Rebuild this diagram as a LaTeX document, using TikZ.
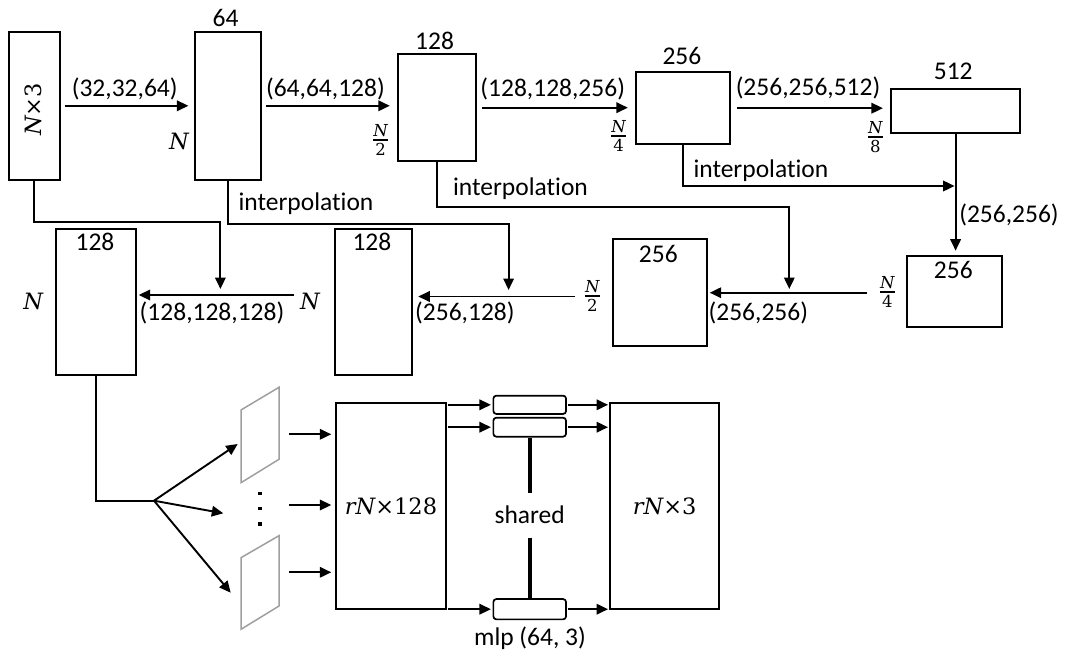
\RequirePackage{fix-cm}
\documentclass[tikz,border=0pt]{standalone}
\usepackage{fontspec}
\setmainfont{Carlito}[Ligatures={NoCommon}]
\newfontfamily\mserif{DejaVu Serif}
\newcommand{\mbig}{\fontsize{22.5}{26}\selectfont\mserif}
\newcommand{\msmall}{\fontsize{16.5}{17}\selectfont\mserif}
\newcommand{\Nv}{{\mbig\itshape N}}
\newcommand{\Nfr}[1]{$\hbox{\msmall\itshape N}\above 2pt\hbox{\msmall #1}$}
\usetikzlibrary{arrows.meta,calc}
\tikzset{
  box/.style={draw, line width=2pt, inner sep=0pt},
  arr/.style={line width=1.9pt, -{Triangle[length=11.5pt,width=10.5pt]}},
  ln/.style={line width=1.9pt},
  txt/.style={inner sep=0pt},
  mlpbox/.style={draw, line width=1.7pt, rounded corners=3pt, inner sep=0pt, minimum width=72.7pt},
  para/.style={draw=gray!75, line width=1.5pt, line join=miter},
  dotm/.style={fill=black, inner sep=0pt, minimum size=3.2pt}
}
\begin{document}
\begin{tikzpicture}[x=1pt,y=-1pt,font=\fontsize{25.5}{30}\selectfont]
\useasboundingbox (0,0) rectangle (1065,655);
% ---------- top row boxes ----------
\node[box, minimum width=50.3pt, minimum height=148.3pt] (A) at (34.4,105.8) {};
\node[txt, rotate=90] (Alab) at (33.6,109.5) {{\mbig\itshape N\upshape ×3}};
\node[box, minimum width=66.4pt, minimum height=148.3pt] (B) at (227.8,105.8) {};
\node[box, minimum width=77.8pt, minimum height=107.3pt] (C) at (436.6,107.7) {};
\node[box, minimum width=94.5pt, minimum height=72.3pt] (D) at (683,108.2) {};
\node[box, minimum width=129.7pt, minimum height=44.3pt] (E) at (955.6,111.2) {};
\node[txt] (Bt) at (225.5,18.3) {64};
\node[txt] (Ct) at (434.6,40.7) {128};
\node[txt] (Dt) at (681.9,56) {256};
\node[txt] (Et) at (953.2,71.7) {512};
\node[txt] (Bn) at (179,141.7) {\Nv};
\node[txt] (Cn) at (380.5,140) {\Nfr{2}};
\node[txt] (Dn) at (618.7,136) {\Nfr{4}};
\node[txt] (En) at (875.4,136.7) {\Nfr{8}};
% top arrows
\draw[arr, shorten <=4pt, shorten >=5.2pt] (A.east) -- (A.east -| B.west);
\draw[arr, shorten <=3.5pt, shorten >=6.9pt] (B.east) -- (B.east -| C.west);
\draw[arr, shorten <=5.5pt, shorten >=6.9pt] (C.east) -- (C.east -| D.west);
\draw[arr, shorten <=5.5pt, shorten >=6.8pt] (D.east) -- (D.east -| E.west);
\node[txt] (l1) at (124.7,89.3) {(32,32,64)};
\node[txt] (l2) at (325.4,89.3) {(64,64,128)};
\node[txt] (l3) at (552.7,88.5) {(128,128,256)};
\node[txt] (l4) at (808,88.3) {(256,256,512)};
% ---------- second row boxes ----------
\node[box, minimum width=80pt, minimum height=145.7pt] (F) at (95.7,302.2) {};
\node[box, minimum width=77.5pt, minimum height=145.7pt] (G) at (373.5,302.2) {};
\node[box, minimum width=93.4pt, minimum height=106.7pt] (H) at (660,292.3) {};
\node[box, minimum width=95.6pt, minimum height=71.6pt] (I) at (954.5,291.5) {};
\node[txt] (Ft) at (95,241.7) {128};
\node[txt] (Gt) at (371.9,242) {128};
\node[txt] (Ht) at (658.3,254) {256};
\node[txt] (It) at (953.3,270) {256};
\node[txt] (Fn) at (33.3,301.7) {\Nv};
\node[txt] (Gn) at (310,301.7) {\Nv};
\node[txt] (Hn) at (592.3,296) {\Nfr{2}};
\node[txt] (In) at (887.3,291.7) {\Nfr{4}};
% row-2 horizontal arrows
\coordinate (fs) at (294.4,295);
\coordinate (gs) at (575,296.5);
\coordinate (hs) at (867.3,292.7);
\draw[arr, shorten >=2pt] (fs) -- (fs -| F.east);
\draw[arr, shorten >=5pt] (gs) -- (gs -| G.east);
\draw[arr, shorten >=2pt] (hs) -- (hs -| H.east);
\node[txt] (fl) at (212,313.3) {(128,128,128)};
\node[txt] (gl) at (464.9,313.3) {(256,128)};
\node[txt] (hl) at (758.3,313.3) {(256,256)};
% skip / interpolation connectors
\coordinate (jA) at (220.4,295);
\coordinate (jB) at (508.6,296.5);
\coordinate (jC) at (789.3,292.7);
\coordinate (jD) at (955.6,186);
\draw[arr, shorten >=6pt] (A.south) -- (A.south |- 0,222) -| (jA);
\draw[arr, shorten >=6.5pt] (B.south) -- (B.south |- 0,224) -| (jB);
\draw[arr, shorten >=3.7pt] (C.south) -- (C.south |- 0,207.3) -| (jC);
\draw[arr, shorten >=1pt] (D.south) -- (D.south |- jD) -- (jD);
\draw[arr, shorten >=4pt] (E.south) -- (E.south |- I.north);
\node[txt] (i1) at (306,204) {interpolation};
\node[txt] (i2) at (520.5,188.3) {interpolation};
\node[txt] (i3) at (760.9,170.7) {interpolation};
\node[txt] (el) at (1009,215) {(256,256)};
% ---------- bottom part ----------
\coordinate (br) at (154,500.7);
\draw[ln] (F.south) -- (F.south |- br) -- (br);
\coordinate (t1) at (237.7,444);
\coordinate (t2) at (223.3,513.3);
\coordinate (t3) at (230.7,592.7);
\draw[arr] (br) -- (t1);
\draw[arr] (br) -- (t2);
\draw[arr] (br) -- (t3);
\draw[para] (241,410) -- (279,387.3) -- (279,459.3) -- (241,482.7) -- cycle;
\draw[para] (241,557.7) -- (279,535.7) -- (279,606) -- (241,629.3) -- cycle;
\node[dotm] (d1) at (260,493.3) {};
\node[dotm] (d2) at (260,508.3) {};
\node[dotm] (d3) at (260,524) {};
\node[box, minimum width=110pt, minimum height=206pt] (R1) at (391,506.3) {};
\node[txt] (R1l) at (391,506.7) {{\mbig\itshape rN\upshape ×128}};
\node[box, minimum width=109.3pt, minimum height=206pt] (R2) at (664.7,506.3) {};
\node[txt] (R2l) at (664.7,506.7) {{\mbig\itshape rN\upshape ×3}};
\coordinate (p1) at (289,434.3);
\coordinate (p2) at (289,505);
\coordinate (p3) at (289,572.3);
\draw[arr, shorten >=3.7pt] (p1) -- (p1 -| R1.west);
\draw[arr, shorten >=3.7pt] (p2) -- (p2 -| R1.west);
\draw[arr, shorten >=3.7pt] (p3) -- (p3 -| R1.west);
\node[mlpbox, minimum height=18.3pt] (m1) at (529.7,404.8) {};
\node[mlpbox, minimum height=19pt] (m2) at (529.7,427.2) {};
\node[mlpbox, minimum height=20.3pt] (m3) at (529.7,609.2) {};
\foreach \m in {m1,m2,m3}{
  \draw[arr, shorten <=1.3pt, shorten >=1.6pt] (R1.east |- \m.west) -- (\m.west);
  \draw[arr, shorten <=0.7pt, shorten >=1pt] (\m.east) -- (\m.east -| R2.west);
}
\node[txt, minimum height=44.6pt] (sh) at (529.7,515) {shared};
\draw[line width=3.8pt] (m2.south) -- (sh.north);
\draw[line width=3.8pt] (sh.south) -- (m3.north);
\node[txt] (ml) at (530,638.3) {mlp (64, 3)};
\end{tikzpicture}
\end{document}
